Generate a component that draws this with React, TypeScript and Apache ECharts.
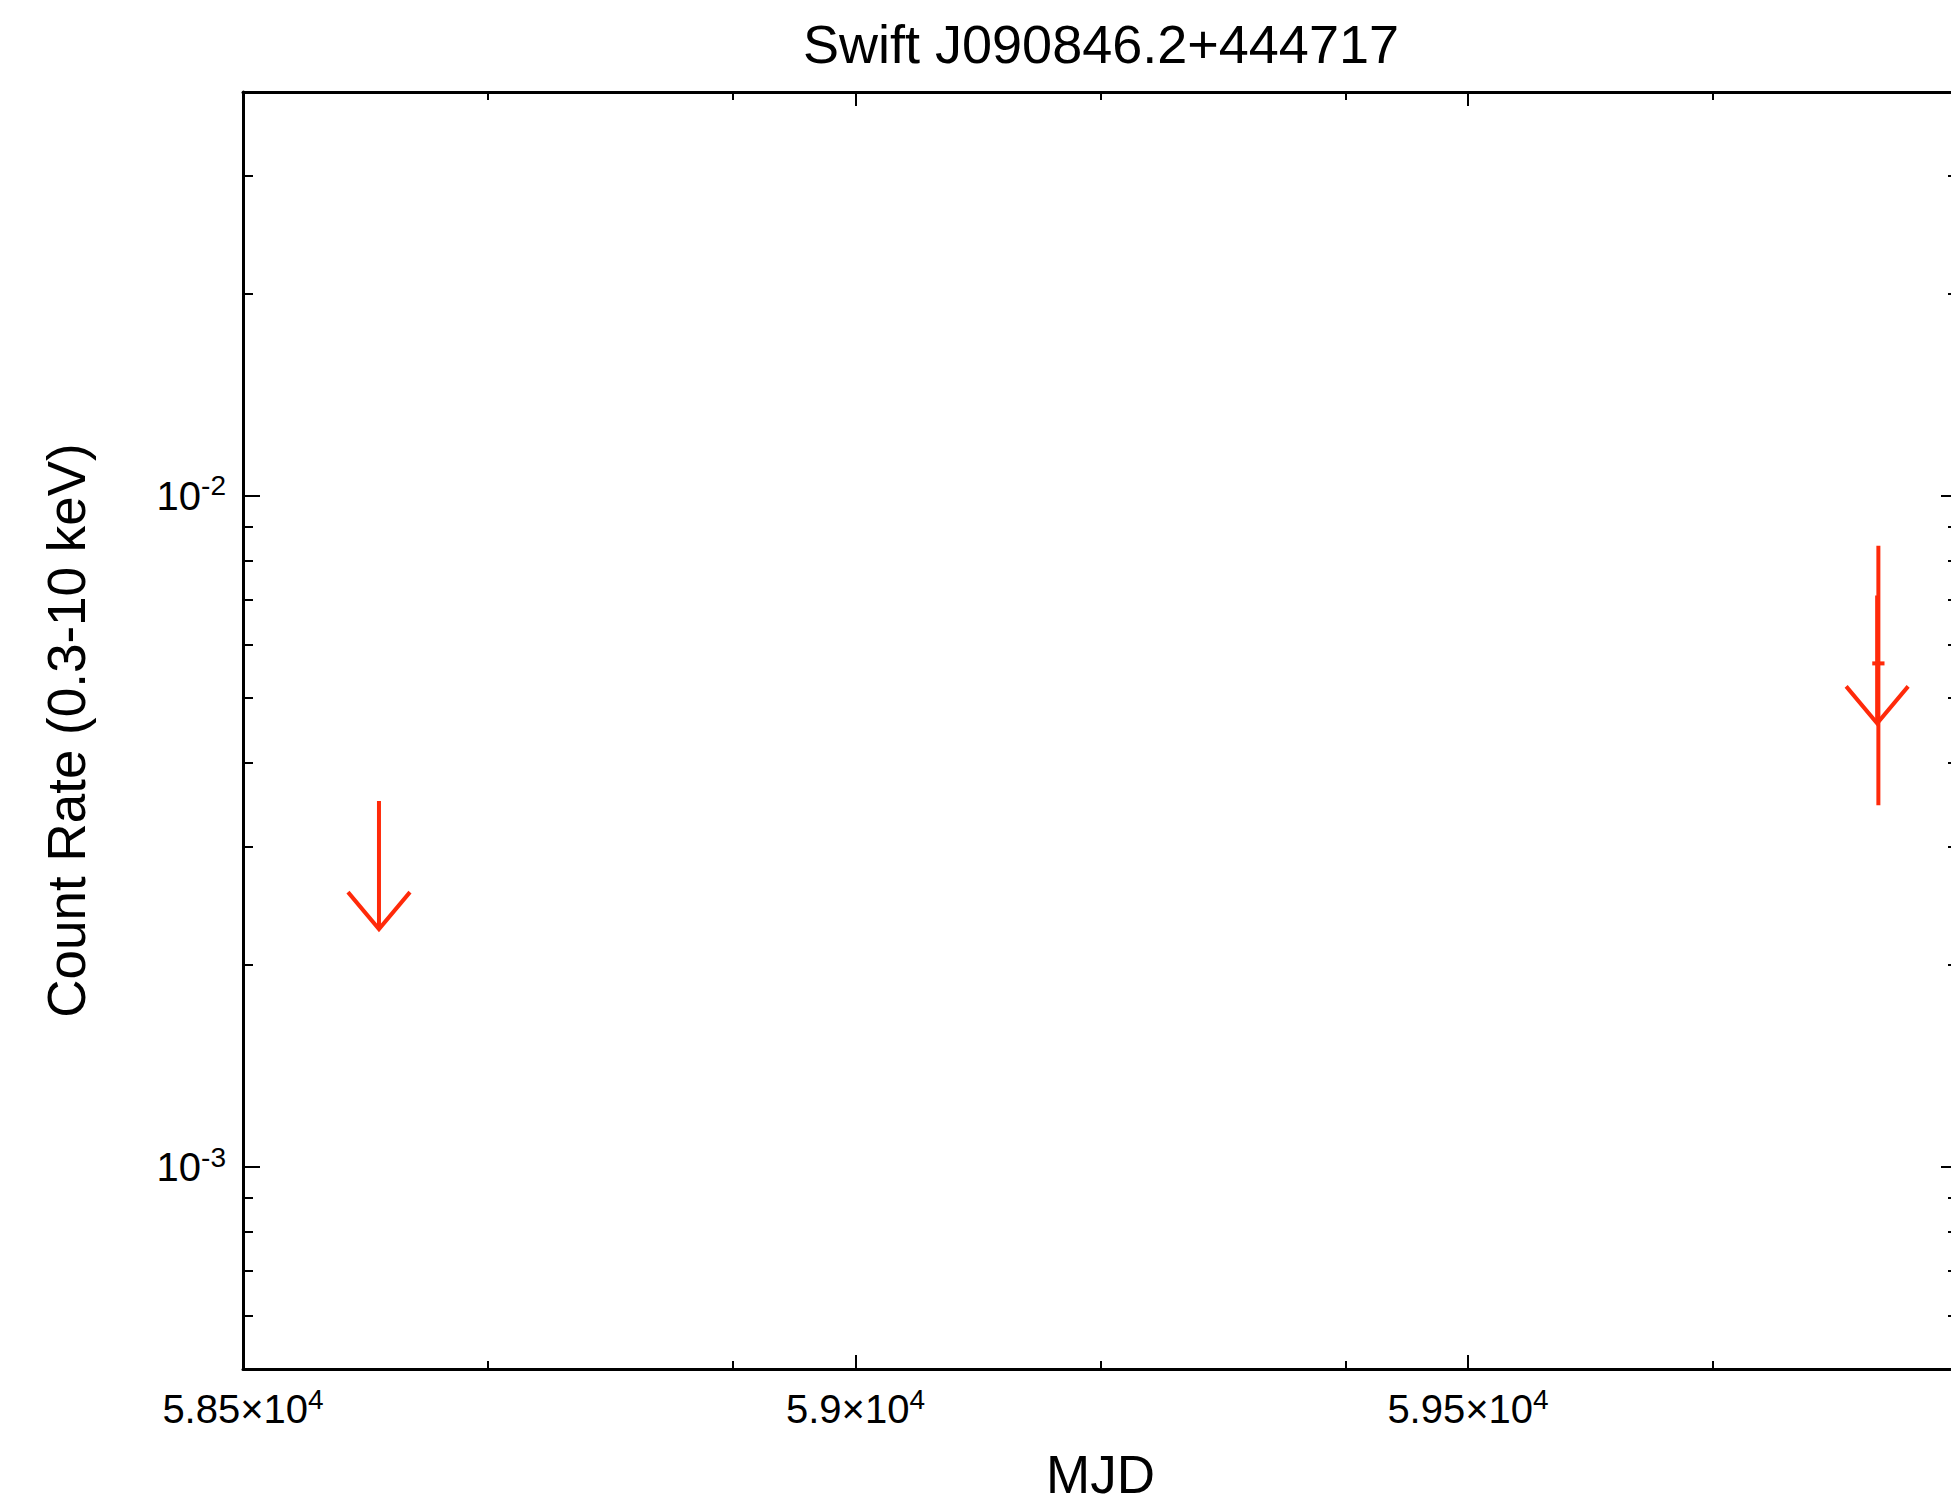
import React, { useEffect, useRef } from "react";
import * as echarts from "echarts";

// Light curve of Swift J090846.2+444717 (XRT, 0.3-10 keV)
const TITLE = "Swift J090846.2+444717";
const X_NAME = "MJD";
const Y_NAME = "Count Rate (0.3-10 keV)";

const X_MIN = 58500;
const X_MAX = 59900;
const Y_MIN = 5e-4;
const Y_MAX = 0.04;

// Tick positions
const X_MAJOR = [58500, 59000, 59500];
const X_MINOR = [58700, 58900, 59200, 59400, 59700];
const Y_MAJOR = [0.001, 0.01];
const Y_MINOR = [
  6e-4, 7e-4, 8e-4, 9e-4,
  0.002, 0.003, 0.004, 0.005, 0.006, 0.007, 0.008, 0.009,
  0.02, 0.03,
];

// Detections: time, rate, time half-width, rate lower / upper bound
const DET_MJD = [59835];
const DET_RATE = [5.63e-3];
const DET_MJD_ERR = [5];
const DET_RATE_LO = [3.46e-3];
const DET_RATE_HI = [8.43e-3];

// Upper limits: time, rate
const UL_MJD = [58611, 59834];
const UL_RATE = [3.51e-3, 7.11e-3];

const RED = "#ff2a0a";
const FONT = "'Liberation Sans', Arial, Helvetica, sans-serif";

const GRID_LEFT = 243;
const GRID_TOP = 92;
const GRID_W = 1715;
const GRID_H = 1281;
const CHART_W = 2202;
const CHART_H = 1506;

const richLabel = {
  b: { fontSize: 40, lineHeight: 48, fontFamily: FONT, color: "#000" },
  sup: { fontSize: 28, lineHeight: 26, verticalAlign: "top", fontFamily: FONT, color: "#000" },
};

const fmtX = (v: number) => {
  const m = Number((v / 1e4).toPrecision(6));
  return `{b|${m}×10}{sup|4}`;
};
const fmtY = (v: number) => `{b|10}{sup|${Math.round(Math.log10(v))}}`;

const frameLine = { show: true, onZero: false, lineStyle: { color: "#000", width: 3 } };

function xAxisDef(position: "top" | "bottom", ticks: number[], len: number, withLine: boolean, withLabels: boolean) {
  return {
    type: "value",
    position,
    min: X_MIN,
    max: X_MAX,
    axisLine: withLine ? frameLine : { show: false },
    axisTick: {
      show: true,
      inside: true,
      length: len,
      customValues: ticks,
      lineStyle: { color: "#000", width: 2 },
    },
    axisLabel: withLabels
      ? { show: true, customValues: ticks, formatter: fmtX, rich: richLabel, margin: 16 }
      : { show: false },
    splitLine: { show: false },
  };
}

function yAxisDef(position: "left" | "right", ticks: number[], len: number, withLine: boolean, withLabels: boolean) {
  return {
    type: "log",
    logBase: 10,
    position,
    min: Y_MIN,
    max: Y_MAX,
    axisLine: withLine ? frameLine : { show: false },
    axisTick: {
      show: true,
      inside: true,
      length: len,
      customValues: ticks,
      lineStyle: { color: "#000", width: 2 },
    },
    axisLabel: withLabels
      ? { show: true, customValues: ticks, formatter: fmtY, rich: richLabel, margin: 17 }
      : { show: false },
    splitLine: { show: false },
    minorTick: { show: false },
    minorSplitLine: { show: false },
  };
}

export default function App() {
  const ref = useRef<HTMLDivElement>(null);

  useEffect(() => {
    if (!ref.current) return;
    const chart = echarts.init(ref.current, undefined, { renderer: "svg" });

    const detData = DET_MJD.map((t, i) => [t, DET_RATE[i], DET_MJD_ERR[i], DET_RATE_LO[i], DET_RATE_HI[i]]);
    const ulData = UL_MJD.map((t, i) => [t, UL_RATE[i]]);

    const xAxes = [
      { ...xAxisDef("bottom", X_MAJOR, 14, true, true), name: X_NAME, nameLocation: "middle", nameGap: 79,
        nameTextStyle: { fontSize: 53, fontFamily: FONT, color: "#000" } },
      xAxisDef("top", X_MAJOR, 14, true, false),
      xAxisDef("bottom", X_MINOR, 8, false, false),
      xAxisDef("top", X_MINOR, 8, false, false),
    ];
    const yAxes = [
      { ...yAxisDef("left", Y_MAJOR, 17, true, true), name: Y_NAME, nameLocation: "middle", nameGap: 150,
        nameRotate: 90, nameTextStyle: { fontSize: 53, fontFamily: FONT, color: "#000" } },
      yAxisDef("right", Y_MAJOR, 17, true, false),
      yAxisDef("left", Y_MINOR, 10, false, false),
      yAxisDef("right", Y_MINOR, 10, false, false),
    ];

    chart.setOption({
      animation: false,
      backgroundColor: "#fff",
      title: {
        text: TITLE,
        left: "center",
        top: 12,
        textStyle: { fontSize: 54, fontWeight: "normal", fontFamily: FONT, color: "#000" },
      },
      grid: { left: GRID_LEFT, top: GRID_TOP, width: GRID_W, height: GRID_H, containLabel: false },
      xAxis: xAxes,
      yAxis: yAxes,
      series: [
        {
          type: "custom",
          name: "detections",
          xAxisIndex: 0,
          yAxisIndex: 0,
          data: detData,
          encode: { x: 0, y: 1 },
          renderItem: (_p: any, api: any) => {
            const t = api.value(0);
            const r = api.value(1);
            const te = api.value(2);
            const top = api.coord([t, api.value(4)]);
            const bot = api.coord([t, api.value(3)]);
            const l = api.coord([t - te, r]);
            const rr = api.coord([t + te, r]);
            const style = { stroke: RED, lineWidth: 4, fill: "none" };
            return {
              type: "group",
              children: [
                { type: "line", shape: { x1: top[0], y1: top[1], x2: bot[0], y2: bot[1] }, style },
                { type: "line", shape: { x1: l[0], y1: l[1], x2: rr[0], y2: rr[1] }, style },
              ],
            };
          },
        },
        {
          type: "custom",
          name: "upper limits",
          xAxisIndex: 0,
          yAxisIndex: 0,
          data: ulData,
          encode: { x: 0, y: 1 },
          renderItem: (_p: any, api: any) => {
            const p = api.coord([api.value(0), api.value(1)]);
            const len = 128;
            const tipY = p[1] + len;
            const style = { stroke: RED, lineWidth: 4, fill: "none" };
            return {
              type: "group",
              children: [
                { type: "line", shape: { x1: p[0], y1: p[1], x2: p[0], y2: tipY }, style },
                {
                  type: "polyline",
                  shape: { points: [[p[0] - 31, tipY - 37], [p[0], tipY], [p[0] + 31, tipY - 37]] },
                  style,
                },
              ],
            };
          },
        },
      ],
    });

    return () => chart.dispose();
  }, []);

  return (
    <div style={{ position: "fixed", left: 0, top: 0, width: "100vw", height: "100vh", overflow: "hidden", background: "#fff" }}>
      <div ref={ref} style={{ width: CHART_W, height: CHART_H }} />
    </div>
  );
}
